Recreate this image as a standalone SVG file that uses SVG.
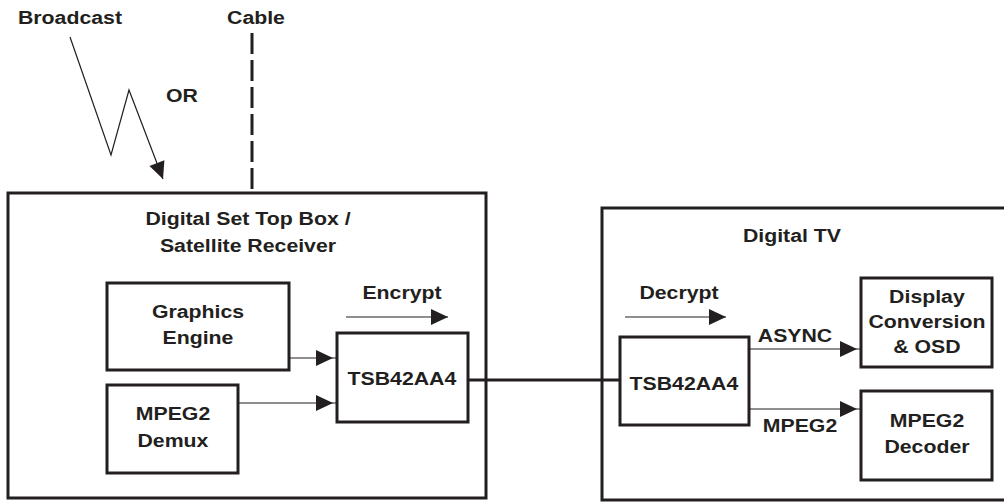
<svg xmlns="http://www.w3.org/2000/svg" width="1004" height="502" viewBox="0 0 1004 502">
<style>
  .box{fill:#fff;stroke:#231f20;stroke-width:3}
  .frame{fill:none;stroke:#231f20;stroke-width:3}
  .t{font-family:"Liberation Sans",Arial,sans-serif;font-weight:bold;font-size:19px;fill:#231f20;text-anchor:middle;transform-box:fill-box;transform-origin:center;transform:scaleX(1.12)}
  .thin{fill:none;stroke:#231f20;stroke-width:1.2}
</style>
<defs>
  <marker id="ah" markerUnits="userSpaceOnUse" markerWidth="22" markerHeight="18" refX="17" refY="8" orient="auto" overflow="visible">
    <path d="M0,0 L17,8 L0,16 z" fill="#231f20"/>
  </marker>
  <marker id="ahb" markerUnits="userSpaceOnUse" markerWidth="22" markerHeight="18" refX="21" refY="8" orient="auto" overflow="visible">
    <path d="M0,0 L17,8 L0,16 z" fill="#231f20"/>
  </marker>
</defs>

<g id="stb">
  <rect class="frame" x="8" y="193" width="478" height="305"/>
  <text class="t" x="248" y="225">Digital Set Top Box /</text>
  <text class="t" x="248" y="252">Satellite Receiver</text>
</g>
<g id="dtv">
  <rect class="frame" x="602" y="208" width="420" height="292"/>
  <text class="t" x="792" y="242">Digital TV</text>
</g>

<g id="graphics">
  <rect class="box" x="107" y="283" width="182" height="87"/>
  <text class="t" x="198" y="318">Graphics</text>
  <text class="t" x="198" y="344">Engine</text>
</g>
<g id="demux">
  <rect class="box" x="107" y="385" width="131" height="88"/>
  <text class="t" x="173" y="420">MPEG2</text>
  <text class="t" x="173" y="447">Demux</text>
</g>
<g id="tsb-tx">
  <rect class="box" x="337" y="333" width="131" height="89"/>
  <text class="t" x="402" y="385">TSB42AA4</text>
</g>
<g id="tsb-rx">
  <rect class="box" x="620" y="337" width="129" height="88"/>
  <text class="t" x="684" y="390">TSB42AA4</text>
</g>
<g id="display">
  <rect class="box" x="861" y="278" width="131" height="89"/>
  <text class="t" x="927" y="303">Display</text>
  <text class="t" x="927" y="328">Conversion</text>
  <text class="t" x="927" y="353">&amp; OSD</text>
</g>
<g id="decoder">
  <rect class="box" x="861" y="391" width="131" height="89"/>
  <text class="t" x="927" y="427">MPEG2</text>
  <text class="t" x="927" y="453">Decoder</text>
</g>

<g id="labels">
  <text class="t" x="70" y="24">Broadcast</text>
  <text class="t" x="256" y="24">Cable</text>
  <text class="t" x="182" y="102">OR</text>
  <text class="t" x="402" y="299">Encrypt</text>
  <text class="t" x="679" y="299">Decrypt</text>
  <text class="t" x="795" y="342">ASYNC</text>
  <text class="t" x="800" y="432">MPEG2</text>
</g>

<g id="connectors">
  <polyline class="thin" points="70,37 111,155 129,90 163,179" marker-end="url(#ah)"/>
  <line x1="252" y1="33" x2="252" y2="193" stroke="#231f20" stroke-width="3" stroke-dasharray="21,6"/>
  <line class="thin" x1="289" y1="358" x2="337" y2="358" marker-end="url(#ahb)"/>
  <line class="thin" x1="238" y1="403" x2="337" y2="403" marker-end="url(#ahb)"/>
  <line class="thin" x1="346" y1="317" x2="448" y2="317" marker-end="url(#ah)"/>
  <line class="thin" x1="625" y1="317" x2="726" y2="317" marker-end="url(#ah)"/>
  <line x1="468" y1="380" x2="620" y2="380" stroke="#231f20" stroke-width="3"/>
  <line class="thin" x1="749" y1="349" x2="861" y2="349" marker-end="url(#ahb)"/>
  <line class="thin" x1="749" y1="409" x2="861" y2="409" marker-end="url(#ahb)"/>
</g>
</svg>
